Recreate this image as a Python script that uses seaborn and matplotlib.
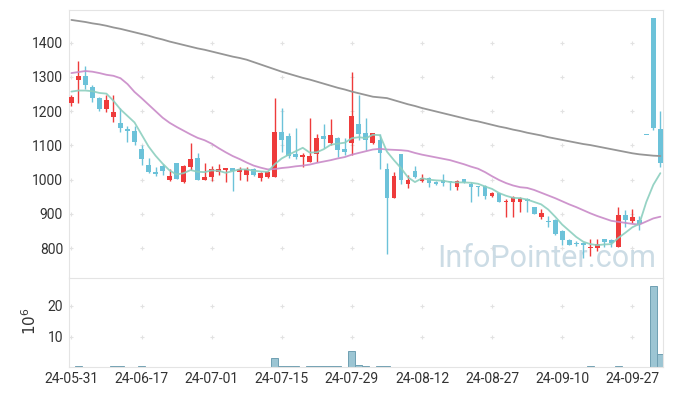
import numpy as np
import pandas as pd
import matplotlib
matplotlib.use("Agg")
import matplotlib.pyplot as plt
import seaborn as sns

# ---------------- data ----------------
tick_labels = ['24-05-31', '24-06-17', '24-07-01', '24-07-15', '24-07-29',
               '24-08-12', '24-08-27', '24-09-10', '24-09-27']
tick_every = 10

opens = [1225, 1290, 1303, 1270, 1238, 1207, 1184, 1166, 1147, 1142,
         1090, 1043, 1023, 1040, 999, 1048, 993, 1038, 1063, 999,
         1009, 1022, 1028, 1033, 1023, 1014, 1031, 1004, 1007, 1009,
         1140, 1128, 1075, 1067, 1053, 1074, 1128, 1108, 1121, 1089,
         1106, 1163, 1137, 1108, 1116, 1031, 946, 1075, 988, 1026,
         997, 1004, 994, 999, 995, 980, 1001, 988, 981, 981,
         951, 961, 936, 936, 936, 944, 920, 892, 878, 883,
         851, 825, 815, 816, 802, 802, 826, 824, 805, 897,
         878, 881, 1132, 1471, 1148]
highs = [1247, 1347, 1332, 1277, 1242, 1248, 1246, 1209, 1157, 1157,
         1102, 1064, 1036, 1046, 1031, 1049, 1043, 1108, 1077, 1050,
         1040, 1045, 1034, 1034, 1038, 1037, 1033, 1022, 1026, 1238,
         1209, 1136, 1150, 1079, 1179, 1134, 1162, 1177, 1124, 1121,
         1315, 1247, 1179, 1137, 1134, 1048, 1021, 1075, 1014, 1040,
         1017, 1009, 997, 1017, 996, 999, 1002, 994, 982, 985,
         965, 962, 943, 951, 949, 946, 921, 914, 894, 884,
         853, 826, 821, 817, 826, 826, 827, 826, 920, 912,
         914, 894, 1132, 1471, 1199]
lows = [1215, 1225, 1264, 1228, 1199, 1196, 1169, 1139, 1110, 1100,
        1042, 1020, 1011, 1014, 997, 1002, 990, 1028, 999, 999,
        997, 1014, 994, 968, 999, 997, 1011, 997, 1005, 1009,
        1080, 1063, 1060, 1036, 1051, 1053, 1092, 1101, 1067, 1072,
        1072, 1116, 1087, 1103, 1031, 783, 946, 988, 975, 1004,
        994, 978, 985, 982, 970, 971, 991, 935, 951, 943,
        950, 935, 890, 892, 907, 907, 900, 885, 863, 840,
        810, 808, 807, 771, 776, 793, 803, 803, 805, 861,
        873, 853, 1132, 1145, 1038]
closes = [1242, 1303, 1275, 1237, 1207, 1233, 1196, 1152, 1141, 1111,
          1060, 1021, 1016, 1026, 1011, 1003, 1040, 1060, 999, 1007,
          1031, 1031, 1033, 1024, 1030, 1030, 1015, 1019, 1021, 1140,
          1116, 1070, 1066, 1072, 1069, 1121, 1119, 1131, 1087, 1082,
          1186, 1134, 1116, 1135, 1079, 946, 1011, 999, 999, 1009,
          1004, 991, 988, 991, 993, 996, 994, 980, 979, 951,
          961, 936, 939, 949, 946, 939, 900, 904, 876, 842,
          824, 810, 812, 808, 805, 812, 819, 815, 897, 881,
          892, 871, 1132, 1150, 1050]
ma5 = [1257, 1260, 1260, 1258, 1253, 1251, 1230, 1205, 1186, 1167,
       1132, 1097, 1070, 1047, 1027, 1015, 1019, 1028, 1023, 1022,
       1027, 1026, 1020, 1025, 1030, 1030, 1026, 1024, 1023, 1045,
       1062, 1073, 1083, 1093, 1079, 1080, 1089, 1102, 1105, 1108,
       1121, 1124, 1121, 1131, 1130, 1082, 1057, 1034, 1007, 993,
       1004, 1000, 998, 997, 993, 992, 992, 991, 988, 980,
       973, 961, 953, 947, 946, 942, 935, 928, 913, 892,
       869, 851, 833, 819, 812, 809, 811, 812, 830, 845,
       861, 871, 935, 985, 1019]
ma20 = [1311, 1314, 1317, 1315, 1311, 1306, 1303, 1296, 1279, 1256,
        1238, 1219, 1200, 1181, 1166, 1154, 1143, 1132, 1122, 1115,
        1105, 1092, 1080, 1069, 1060, 1050, 1041, 1035, 1030, 1031,
        1034, 1036, 1039, 1041, 1044, 1049, 1053, 1057, 1062, 1066,
        1073, 1078, 1083, 1088, 1090, 1088, 1087, 1086, 1084, 1078,
        1073, 1069, 1065, 1061, 1057, 1051, 1045, 1038, 1032, 1022,
        1010, 999, 990, 983, 978, 976, 970, 962, 954, 946,
        937, 928, 920, 911, 902, 894, 887, 880, 877, 874,
        871, 869, 878, 887, 892]
ma_long = [1466, 1463, 1460, 1456, 1453, 1449, 1444, 1440, 1435, 1430,
           1425, 1420, 1414, 1409, 1403, 1398, 1393, 1388, 1383, 1379,
           1374, 1369, 1364, 1359, 1355, 1350, 1343, 1336, 1329, 1322,
           1315, 1309, 1303, 1297, 1292, 1286, 1280, 1274, 1268, 1263,
           1257, 1252, 1247, 1242, 1240, 1238, 1232, 1226, 1220, 1215,
           1209, 1204, 1199, 1194, 1189, 1184, 1179, 1174, 1170, 1165,
           1160, 1155, 1151, 1146, 1142, 1137, 1133, 1129, 1124, 1120,
           1116, 1112, 1108, 1104, 1101, 1097, 1093, 1089, 1085, 1081,
           1077, 1074, 1072, 1070, 1069]
volume_m = [0.05, 0.30, 0.05, 0.04, 0.05, 0.06, 0.30, 0.30, 0.05, 0.05,
            0.30, 0.05, 0.04, 0.05, 0.05, 0.06, 0.05, 0.08, 0.06, 0.05,
            0.04, 0.05, 0.04, 0.05, 0.04, 0.05, 0.04, 0.05, 0.06, 2.90,
            0.60, 0.30, 0.30, 0.08, 0.50, 0.30, 0.30, 0.30, 0.30, 0.10,
            5.20, 0.90, 0.30, 0.10, 0.30, 0.30, 0.08, 0.06, 0.05, 0.05,
            0.04, 0.05, 0.04, 0.05, 0.04, 0.05, 0.04, 0.05, 0.04, 0.05,
            0.05, 0.04, 0.06, 0.05, 0.04, 0.05, 0.04, 0.05, 0.04, 0.05,
            0.05, 0.04, 0.05, 0.06, 0.30, 0.05, 0.04, 0.05, 0.60, 0.06,
            0.05, 0.08, 0.20, 26.50, 4.20]
price_ticks = [800, 900, 1000, 1100, 1200, 1300, 1400]
volume_ticks = [10, 20]

# ---------------- styling ----------------
RED = '#ee3b3b'
BLUE = '#6cc2d9'
C_MA5 = '#8ccfbf'
C_MA20 = '#c98ac8'
C_LONG = '#969696'
GRID = '#e2e2e2'
SPINE = '#e4e4e4'
TXT = '#333333'

sns.set_theme(style='white')
plt.rcParams['font.family'] = ['Roboto', 'DejaVu Sans']

df = pd.DataFrame({'idx': np.arange(len(closes)), 'open': opens, 'high': highs,
                   'low': lows, 'close': closes, 'ma5': ma5, 'ma20': ma20,
                   'ma_long': ma_long, 'vol': volume_m})

W, H = 673, 396
fig = plt.figure(figsize=(W / 100, H / 100), dpi=100)
left, right, top, mid, bottom = 69.3, 663, 10, 277.7, 367.4
ax = fig.add_axes([left / W, 1 - mid / H, (right - left) / W, (mid - top) / H])
axv = fig.add_axes([left / W, 1 - bottom / H, (right - left) / W, (bottom - mid) / H], sharex=ax)

# grid crosses
for a, ys in ((ax, price_ticks), (axv, volume_ticks)):
    gx, gy = np.meshgrid(np.arange(0, len(closes), tick_every), ys)
    a.scatter(gx.ravel(), gy.ravel(), marker='+', s=12, color=GRID, linewidths=0.8, zorder=0)

# candles
up = df['close'] > df['open']
cols = np.where(up, RED, BLUE)
ax.vlines(df['idx'], df['low'], df['high'], colors=cols, linewidth=1.0, zorder=2)
body_lo = np.minimum(df['open'], df['close'])
body_h = (df['close'] - df['open']).abs()
min_h = 2.6
body_bottom = np.where(body_h < min_h, (df['open'] + df['close']) / 2 - min_h / 2, body_lo)
body_h = np.maximum(body_h, min_h)
ax.bar(df['idx'], body_h, bottom=body_bottom, width=0.68, color=cols, linewidth=0, zorder=3)

# moving averages
sns.lineplot(data=df, x='idx', y='ma_long', ax=ax, color=C_LONG, linewidth=1.3, zorder=4)
sns.lineplot(data=df, x='idx', y='ma20', ax=ax, color=C_MA20, linewidth=1.3, alpha=0.9, zorder=4)
sns.lineplot(data=df, x='idx', y='ma5', ax=ax, color=C_MA5, linewidth=1.3, alpha=0.9, zorder=4)

# volume
axv.bar(df['idx'], df['vol'], width=1.0, color='#9cc5d3', edgecolor='#6f9fb2',
        linewidth=0.7, zorder=2)

# axes settings
ax.set_xlim(-0.3, 84.38)
ax.set_ylim(714, 1495)
axv.set_ylim(0, 29.2)
ax.set_yticks(price_ticks)
axv.set_yticks(volume_ticks)
axv.set_xticks(np.arange(0, len(tick_labels) * tick_every, tick_every))
axv.set_xticklabels(tick_labels)
ax.tick_params(axis='x', labelbottom=False, length=0)
ax.tick_params(axis='y', length=0, labelsize=10, colors=TXT, pad=4.5)
axv.tick_params(axis='both', length=0, labelsize=10, colors=TXT)
axv.tick_params(axis='y', pad=4.5)
axv.tick_params(axis='x', pad=3.5)
for a in (ax, axv):
    a.set_xlabel('')
    a.set_ylabel('')
    for s in a.spines.values():
        s.set_color(SPINE)
        s.set_linewidth(0.8)
ax.spines['bottom'].set_visible(False)

axv.set_ylabel('$10^6$', fontsize=11, color=TXT)
axv.yaxis.set_label_coords(-(left - 39) / (right - left), 0.52)

# watermark
ax.text(437 / W, 1 - 267 / H, 'InfoPointer.com', transform=fig.transFigure,
        fontsize=22, color='#c3d6e1', alpha=0.85, ha='left', va='baseline',
        family=['Roboto', 'DejaVu Sans'], zorder=1)

fig.savefig('out.png', dpi=100)
